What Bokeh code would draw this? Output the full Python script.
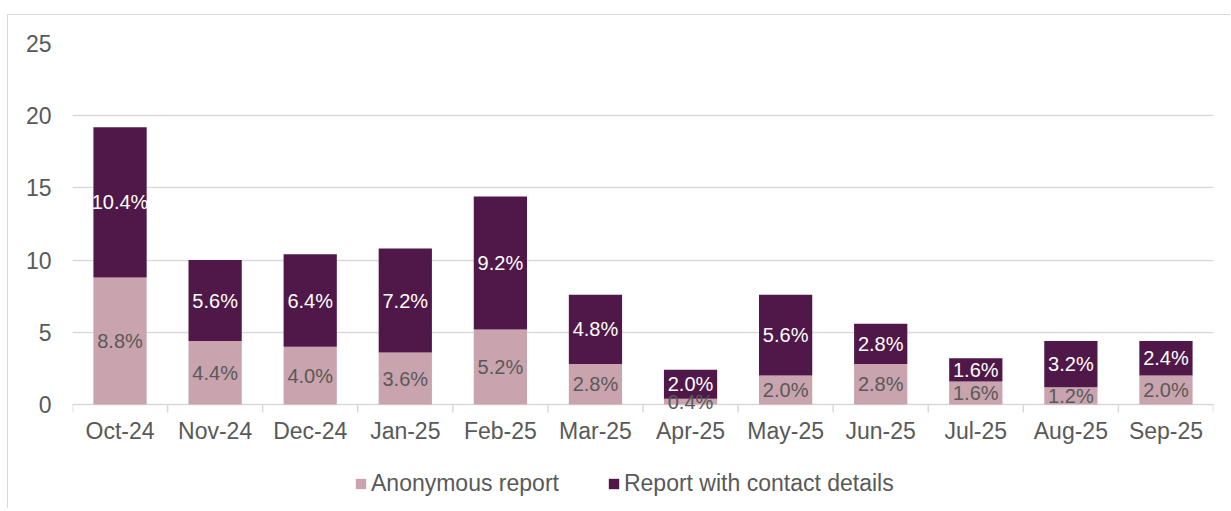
from bokeh.plotting import figure
from bokeh.models import ColumnDataSource, FixedTicker, Legend, LegendItem, Range1d, LabelSet
from bokeh.core.properties import value
from bokeh.embed import file_html
from bokeh.resources import INLINE

months = ["Oct-24", "Nov-24", "Dec-24", "Jan-25", "Feb-25", "Mar-25",
          "Apr-25", "May-25", "Jun-25", "Jul-25", "Aug-25", "Sep-25"]
anonymous = [8.8, 4.4, 4.0, 3.6, 5.2, 2.8, 0.4, 2.0, 2.8, 1.6, 1.2, 2.0]
contact = [10.4, 5.6, 6.4, 7.2, 9.2, 4.8, 2.0, 5.6, 2.8, 1.6, 3.2, 2.4]
y_ticks = [0, 5, 10, 15, 20, 25]

C_ANON = "#C9A4AE"
C_CONT = "#501848"
FONT = "Liberation Sans"
GREY = "#595959"
LINE = "#d9d9d9"

n = len(months)
xs = [i + 0.5 for i in range(n)]
bounds = list(range(n + 1))
tops = [a + c for a, c in zip(anonymous, contact)]
src = ColumnDataSource(dict(
    x=xs, anon=anonymous, cont=contact, top=tops, month=months, zero=[0] * n,
    anon_mid=[a / 2 for a in anonymous],
    cont_mid=[a + c / 2 for a, c in zip(anonymous, contact)],
    anon_lbl=[f"{a:.1f}%" for a in anonymous],
    cont_lbl=[f"{c:.1f}%" for c in contact],
))

OX, OY = 8, 15                 # page offset of the figure content (after border)
FRAME_L, FRAME_R, FRAME_T, ZERO_Y = 72, 1213, 43, 404
PX = (ZERO_Y - FRAME_T) / 25.0  # pixels per unit
W, H = 1223, 494
frame_bottom = OY + H
y_start = -(frame_bottom - ZERO_Y) / PX

p = figure(width=W, height=H, output_backend="svg", toolbar_location=None,
           x_range=Range1d(0, n), y_range=Range1d(y_start, 25), x_axis_location=None,
           min_border_left=FRAME_L - OX, min_border_right=W - (FRAME_R - OX),
           min_border_top=FRAME_T - OY, min_border_bottom=0)
p.margin = (14, 0, 0, 7)
p.styles = {"border-left": "1px solid #d9d9d9", "border-top": "1px solid #d9d9d9"}
p.outline_line_color = None
p.background_fill_color = "white"

r1 = p.vbar(x="x", bottom=0, top="anon", width=0.56, source=src, fill_color=C_ANON, line_color=None)
r2 = p.vbar(x="x", bottom="anon", top="top", width=0.56, source=src, fill_color=C_CONT, line_color=None)

p.add_layout(LabelSet(x="x", y="anon_mid", text="anon_lbl", source=src, text_align="center",
                      text_baseline="middle", text_font=value(FONT), text_font_size=value("20px"),
                      text_color=GREY))
p.add_layout(LabelSet(x="x", y="cont_mid", text="cont_lbl", source=src, text_align="center",
                      text_baseline="middle", text_font=value(FONT), text_font_size=value("20px"),
                      text_color="white"))

# category axis drawn at y = 0
p.segment(x0=bounds, y0=[0] * (n + 1), x1=bounds, y1=[-8 / PX] * (n + 1), line_color=LINE, line_width=1.5)
p.add_layout(LabelSet(x="x", y="zero", text="month", source=src, text_align="center",
                      text_baseline="top", y_offset=-13, text_font=value(FONT),
                      text_font_size=value("23px"), text_color=GREY))

# y axis
p.yaxis.ticker = FixedTicker(ticks=y_ticks)
p.yaxis.axis_line_color = None
p.yaxis.major_tick_line_color = None
p.yaxis.minor_tick_line_color = None
p.yaxis.major_label_text_font = FONT
p.yaxis.major_label_text_font_size = "23px"
p.yaxis.major_label_text_color = GREY
p.yaxis.major_label_standoff = 15
p.ygrid.grid_line_color = LINE
p.ygrid.grid_line_width = 1.5
p.xgrid.grid_line_color = None

legend = Legend(items=[LegendItem(label="Anonymous report", renderers=[r1]),
                       LegendItem(label="Report with contact details", renderers=[r2])],
                orientation="horizontal", location=(282, frame_bottom - 497),
                label_text_font=FONT, label_text_font_size="23px", label_text_color=GREY,
                glyph_width=13, glyph_height=13, spacing=48, label_standoff=4,
                border_line_color=None, background_fill_alpha=0, margin=0, padding=4)
p.add_layout(legend, "center")

open("out.html", "w").write(file_html(p, INLINE))
